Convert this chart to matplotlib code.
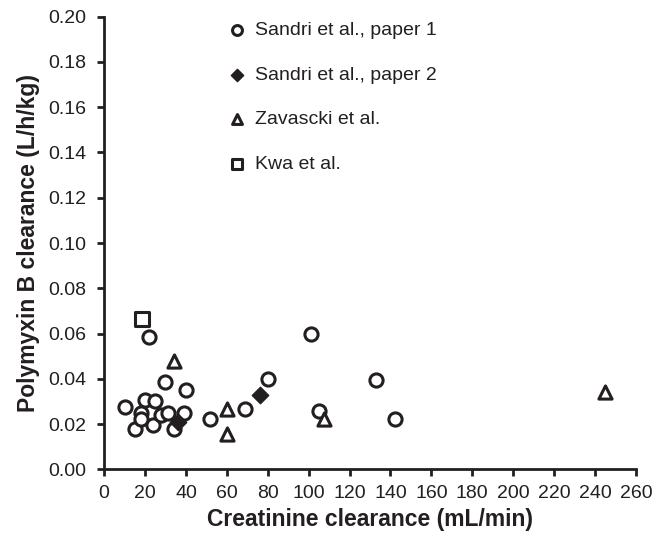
import matplotlib.pyplot as plt

plt.rcParams['font.family'] = ['Liberation Sans', 'DejaVu Sans']

# Sandri et al., paper 1 (open circles)
sandri1_x = [10, 15, 18, 18, 20, 22, 24, 25, 28, 30, 31, 34, 39, 40,
             52, 69, 80, 101, 105, 133, 142]
sandri1_y = [0.0275, 0.018, 0.025, 0.022, 0.0305, 0.0585, 0.0195, 0.030, 0.024, 0.0386, 0.025, 0.018, 0.025, 0.0352,
             0.022, 0.0265, 0.040, 0.060, 0.0256, 0.0395, 0.0222]

# Sandri et al., paper 2 (filled diamonds)
sandri2_x = [36, 76]
sandri2_y = [0.021, 0.033]

# Zavascki et al. (open triangles)
zavascki_x = [34, 60, 60, 107.5, 245]
zavascki_y = [0.0477, 0.0268, 0.0155, 0.0224, 0.0342]

# Kwa et al. (open square)
kwa_x = [18.4]
kwa_y = [0.0666]

ink = '#231f20'

fig = plt.figure(figsize=(6.59, 5.4), dpi=100)
ax = fig.add_axes([0.158, 0.131, 0.807, 0.838])

kw = dict(s=90, linewidths=2.2, zorder=3)
ax.scatter(sandri1_x, sandri1_y, marker='o', facecolors='white', edgecolors=ink,
           label='Sandri et al., paper 1', **kw)
ax.scatter(sandri2_x, sandri2_y, marker='D', facecolors=ink, edgecolors=ink,
           s=70, linewidths=1.0, zorder=3, label='Sandri et al., paper 2')
ax.scatter(zavascki_x, zavascki_y, marker='^', facecolors='white', edgecolors=ink,
           label='Zavascki et al.', **kw)
ax.scatter(kwa_x, kwa_y, marker='s', facecolors='white', edgecolors=ink,
           label='Kwa et al.', **kw)

ax.set_xlim(0, 260)
ax.set_ylim(0, 0.20)
ax.set_xticks(range(0, 261, 20))
ax.set_yticks([i * 0.02 for i in range(11)])
ax.set_yticklabels(['%.2f' % (i * 0.02) for i in range(11)])

for side in ['top', 'right']:
    ax.spines[side].set_visible(False)
for side in ['left', 'bottom']:
    ax.spines[side].set_linewidth(2.0)
    ax.spines[side].set_color(ink)
ax.tick_params(direction='out', length=5, width=2, colors=ink, labelsize=14)
ax.tick_params(axis='x', pad=6)
ax.tick_params(axis='y', pad=8)

ax.set_xlabel('Creatinine clearance (mL/min)', fontsize=16.5, fontweight='bold', color=ink, labelpad=5)
ax.set_ylabel('Polymyxin B clearance (L/h/kg)', fontsize=16.5, fontweight='bold', color=ink, labelpad=6)

leg = ax.legend(loc='upper left', bbox_to_anchor=(0.238, 0.989), frameon=False, fontsize=14,
                markerscale=0.75, handletextpad=0.55, handlelength=0.7, labelspacing=1.38,
                borderpad=0, borderaxespad=0, labelcolor=ink)

fig.savefig('out.png', dpi=100)
